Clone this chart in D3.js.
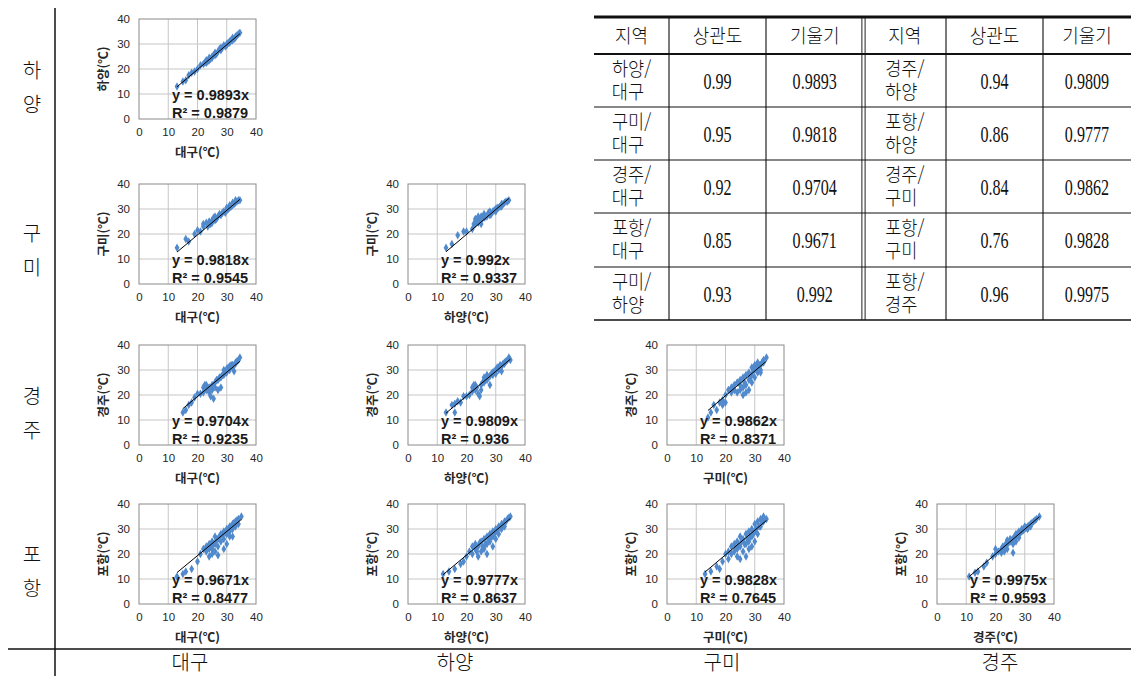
<!DOCTYPE html>
<html lang="ko">
	<head>
		<meta charset="utf-8">
		<title>지역별 기온 상관도</title>
		<script type="text/javascript" src="https://cdn.jsdelivr.net/npm/d3@7/dist/d3.min.js"></script>
		<style type="text/css">
			body {
				margin: 0;
				background: #fff;
				}
			.axis text {
				font-family: "Liberation Sans", Arial, sans-serif;
				font-size: 11.5px;
				fill: #262626;
				}
			.axis path { display: none; }
			.axis_title {
				font-family: "Noto Sans CJK KR", sans-serif;
				font-weight: bold;
				font-size: 12.5px;
				fill: #262626;
				}
			.eq {
				font-family: "Liberation Sans", Arial, sans-serif;
				font-weight: bold;
				font-size: 14.5px;
				fill: #1a1a1a;
				}
			.big_label {
				font-family: "Noto Sans CJK KR", sans-serif;
				font-weight: 300;
				font-size: 20px;
				fill: #111;
				}
			.cell_kr {
				font-family: "Noto Sans CJK KR", sans-serif;
				font-weight: 300;
				font-size: 19.5px;
				fill: #111;
				}
			.cell_num {
				font-family: "Liberation Serif", serif;
				font-size: 23px;
				fill: #111;
				}
		</style>
	</head>
	<body>
		<script type="text/javascript">

			var w = 1131;
			var h = 676;

			// names of the stations
			var rowNames = ["하양", "구미", "경주", "포항"];
			var colNames = ["대구", "하양", "구미", "경주"];

			// one entry per scatter panel: [row index, col index]
			var panelCells = [[0,0], [1,0], [1,1], [2,0], [2,1], [2,2], [3,0], [3,1], [3,2], [3,3]];
			var slopes = [0.9893, 0.9818, 0.992, 0.9704, 0.9809, 0.9862, 0.9671, 0.9777, 0.9828, 0.9975];
			var rSquares = ["0.9879", "0.9545", "0.9337", "0.9235", "0.936", "0.8371", "0.8477", "0.8637", "0.7645", "0.9593"];
			var tickValues = [0, 10, 20, 30, 40];

			// daily temperatures, [x, y]
			var pts_hayang_daegu = [[13,13],[15,15],[16,15.5],[17,17.5],[18,18.5],[19,19],[20,20],[21,21.5],[22,22],[22.5,22.5],
				[23,23.5],[23.5,23],[24,24.5],[24.5,24],[25,25],[25.5,25.5],[26,26.5],[26.5,26],[27,27],[27.5,28],
				[28,27.5],[28.5,28.5],[29,29.5],[29.5,29],[30,30],[30.5,30.5],[31,31],[31.5,31.5],[32,32.5],[32.5,32],
				[33,33],[33.5,33.5],[34,34],[34.5,34.5],[23,22.5],[24,23.5],[25,24.5],[26,25.5],[28,28.5],[30,29.5],[31,30.5],[32,31.5],[33,32.5]];
			var pts_gumi_daegu = [[13,14.5],[16,18],[17,17],[19,20],[20,21.5],[21,21],[22,23],[22,24],[23,24.5],[23.5,23],
				[24,25],[24.5,24],[25,25.5],[25.5,26.5],[26,27],[26.5,26],[27,27],[27.5,28],[28,27.5],[28.5,28.5],
				[29,29],[29.5,28.5],[30,29.5],[30.5,30],[31,30.5],[31.5,31],[32,31.5],[32.5,32],[33,32.5],[33.5,33],
				[34,33.5],[34.5,33.5],[30,30.5],[31,31.5],[32,32.5],[33,33.5],[25,24.5],[26,25.5],[24,24]];
			var pts_gumi_hayang = [[13,14.5],[15,16],[17,19.5],[19,21],[20,21],[22,22],[22.5,24],[23,24],[23,26],[23.5,25],
				[24,27],[24,25.5],[24.5,26],[25,27],[25,24],[25.5,26.5],[26,26.5],[26,28],[26.5,27],[27,27],
				[27.5,28.5],[28,29],[28,27.5],[28.5,28],[29,29],[29.5,29.5],[30,30],[30,29],[30.5,30.5],[31,30.5],
				[31.5,31],[32,31],[32,32],[32.5,32],[33,32.5],[33.5,33],[34,33],[34.5,33.5],[24,24.5],[25,25.5]];
			var pts_gyeongju_daegu = [[15,13],[16,14],[17,16],[18,17],[19,19],[20,20.5],[21,20.5],[22,21],[22,23],[22.5,24],
				[23,24],[23,22],[23.5,23],[24,23],[24,21],[24.5,19.5],[25,22],[25,24],[25.5,18.5],[26,23],
				[26,25],[26.5,26],[27,22],[27,26],[27.5,27],[28,27],[28,23],[28.5,28],[29,28],[29,30],
				[29.5,29],[30,29],[30,30.5],[30.5,31],[31,30],[31,31.5],[31.5,32],[32,31],[32,32],[32.5,29.5],
				[33,32.5],[33,33],[33.5,33.5],[34,34],[34.5,35]];
			var pts_gyeongju_hayang = [[13,13],[16,13],[15,16],[16,16.5],[17,17.5],[18,17],[19,19.5],[20,19.5],[21,20],[22,21.5],
				[22,23],[22.5,24],[23,24],[23,22],[23.5,23],[24,20.5],[24.5,19.5],[25,24],[25,22],[25.5,25],
				[26,25],[26,27],[26.5,26],[27,26],[27,28],[27.5,27],[28,24],[28,27.5],[28.5,28.5],[29,28],
				[29,29],[29.5,29.5],[30,30],[30,28.5],[30.5,31],[31,31],[31,30],[31.5,32],[32,31.5],[32,29.5],
				[32.5,32.5],[33,32.5],[33,33],[33.5,33.5],[34,34],[34.5,35],[35,34]];
			var pts_gyeongju_gumi = [[14,11],[15,13],[16,16],[17,14],[18,17],[19,16],[19,18],[20,20],[20,17],[21,22],
				[22,21],[22,23],[23,22],[23,24],[24,21],[24,25],[25,22],[25,24],[25,26],[26,20],
				[26,23],[26,27],[26.5,25],[27,21],[27,24],[27,28],[28,22],[28,26],[28,29],[28.5,27],
				[29,25],[29,28],[29,31],[29.5,30],[30,27],[30,30],[30,32],[30.5,31],[31,29],[31,31],
				[31,33],[31.5,32],[32,30],[32,32],[32.5,33],[33,33],[33,34],[34,35],[32,29]];
			var pts_pohang_daegu = [[13,11],[15,12],[16,13],[18,14],[20,17],[21,20],[22,22],[23,23],[23,21],[23.5,22.5],
				[24,24],[24,22],[24,19],[24.5,23],[25,22],[25,25],[25,20],[25.5,24],[26,24],[26,27],
				[26,21],[26.5,25.5],[27,26],[27,23],[27,19.5],[27.5,27],[28,28],[28,25],[28.5,27.5],[29,29],
				[29,26],[29,22],[29.5,28.5],[30,30],[30,28],[30,24],[30.5,30],[31,31],[31,29],[31,27],
				[31.5,31],[32,32],[32,30],[32,27],[32.5,32.5],[33,33],[33,31],[33.5,33.5],[34,34],[34,32],[35,35]];
			var pts_pohang_hayang = [[12,12],[14,13],[16,14],[18,16],[19,17],[20,19],[21,21],[22,20],[22,23],[23,22],
				[23,24],[23.5,21],[24,19],[24,23],[24.5,24.5],[25,21],[25,25],[25.5,23],[26,22],[26,26],
				[26.5,24],[27,20],[27,24],[27,27],[27.5,26],[28,25],[28,28],[28.5,27],[29,23],[29,27],
				[29,29],[29.5,28],[30,26],[30,30],[30.5,29],[31,28],[31,31],[31.5,30.5],[32,30],[32,32],
				[32.5,31.5],[33,31],[33,33],[33.5,33],[34,34],[34.5,34.5],[35,35]];
			var pts_pohang_gumi = [[13,12],[15,13],[17,15],[18,14],[19,17],[20,20],[21,21],[21,18],[22,23],[22,20],
				[23,24],[23,21],[23.5,22.5],[24,22],[24,25],[24,19],[24.5,23.5],[25,23],[25,27],[25,18],
				[25.5,25],[26,21],[26,26],[26.5,24],[27,24],[27,28],[27,19],[27.5,26],[28,25],[28,29],
				[28,22],[28.5,27],[29,27],[29,30],[29,23],[29.5,28],[30,29],[30,32],[30,25],[30.5,30],
				[31,28],[31,33],[31.5,31],[32,31],[32,34],[32.5,33],[33,33],[33,35],[34,34]];
			var pts_pohang_gyeongju = [[11,11],[13,12.5],[14,13],[16,15],[17,16.5],[19,19],[20,20],[20,22],[21,21],[22,22],
				[22,20.5],[22.5,23],[23,23],[23,21],[23.5,24],[24,24],[24,25.5],[24,22],[24.5,24.5],[25,25],
				[25,26],[25.5,25.5],[26,26],[26,24],[26,20.5],[26.5,27],[27,27],[27,28],[27,25],[27.5,27.5],
				[28,28],[28,29],[28,26.5],[28.5,28.5],[29,29],[29,30],[29.5,29.5],[30,30],[30,31],[30.5,30.5],
				[31,31],[31,30],[31.5,31.5],[32,32],[32,31],[32.5,32.5],[33,33],[33.5,33.5],[34,34],[35,35]];

			var panelPoints = [pts_hayang_daegu, pts_gumi_daegu, pts_gumi_hayang, pts_gyeongju_daegu, pts_gyeongju_hayang,
				pts_gyeongju_gumi, pts_pohang_daegu, pts_pohang_hayang, pts_pohang_gumi, pts_pohang_gyeongju];

			// table on the upper right
			var tableHeaders = ["지역", "상관도", "기울기", "지역", "상관도", "기울기"];
			var leftPairs = [["하양/","대구"], ["구미/","대구"], ["경주/","대구"], ["포항/","대구"], ["구미/","하양"]];
			var leftCorr = ["0.99", "0.95", "0.92", "0.85", "0.93"];
			var leftSlope = ["0.9893", "0.9818", "0.9704", "0.9671", "0.992"];
			var rightPairs = [["경주/","하양"], ["포항/","하양"], ["경주/","구미"], ["포항/","구미"], ["포항/","경주"]];
			var rightCorr = ["0.94", "0.86", "0.84", "0.76", "0.96"];
			var rightSlope = ["0.9809", "0.9777", "0.9862", "0.9828", "0.9975"];


			// layout of the panel grid
			var colX = [139, 408, 667, 937];
			var rowY = [19, 184, 345, 504];
			var pw = 117;
			var ph = 100;

			var svg = d3.select("body")
						.append("svg")
						.attr("width", w)
						.attr("height", h);

			var xScale = d3.scaleLinear().domain([0, 40]).range([0, pw]);
			var yScale = d3.scaleLinear().domain([0, 40]).range([ph, 0]);

			var diamond = d3.symbol().type(d3.symbolDiamond).size(20);

			panelCells.forEach(function(cell, i){
				var r = cell[0], c = cell[1];
				var g = svg.append("g")
					.attr("transform", "translate(" + colX[c] + "," + rowY[r] + ")");

				// grid
				g.selectAll("line.gx")
					.data(tickValues.slice(1, 4))
					.enter().append("line")
					.attr("x1", function(d){ return xScale(d); })
					.attr("x2", function(d){ return xScale(d); })
					.attr("y1", 0).attr("y2", ph)
					.attr("stroke", "#c6c6c6");
				g.selectAll("line.gy")
					.data(tickValues.slice(1, 4))
					.enter().append("line")
					.attr("y1", function(d){ return yScale(d); })
					.attr("y2", function(d){ return yScale(d); })
					.attr("x1", 0).attr("x2", pw)
					.attr("stroke", "#c6c6c6");
				g.append("rect")
					.attr("width", pw).attr("height", ph)
					.attr("fill", "none")
					.attr("stroke", "#8a8a8a");

				// points
				var pts = panelPoints[i];
				g.selectAll("path.pt")
					.data(pts)
					.enter().append("path")
					.attr("d", diamond)
					.attr("transform", function(d){
						return "translate(" + xScale(d[0]) + "," + yScale(d[1]) + ")";
						})
					.attr("fill", "#5089cc");

				// trend line through the origin
				var xs = d3.extent(pts, function(d){ return d[0]; });
				g.append("line")
					.attr("x1", xScale(xs[0])).attr("y1", yScale(slopes[i]*xs[0]))
					.attr("x2", xScale(xs[1])).attr("y2", yScale(slopes[i]*xs[1]))
					.attr("stroke", "#000")
					.attr("stroke-width", 1);

				// axes
				g.append("g")
					.attr("class", "axis")
					.attr("transform", "translate(0," + ph + ")")
					.call(d3.axisBottom(xScale).tickValues(tickValues).tickSize(0).tickPadding(9));
				g.append("g")
					.attr("class", "axis")
					.call(d3.axisLeft(yScale).tickValues(tickValues).tickSize(0).tickPadding(9));

				g.append("text")
					.attr("class", "axis_title")
					.attr("x", pw/2).attr("y", ph + 38)
					.attr("text-anchor", "middle")
					.text(colNames[c] + "(℃)");
				g.append("text")
					.attr("class", "axis_title")
					.attr("transform", "translate(-31," + (ph/2) + ") rotate(-90)")
					.attr("text-anchor", "middle")
					.text(rowNames[r] + "(℃)");

				g.append("text").attr("class", "eq")
					.attr("x", 33).attr("y", 81)
					.text("y = " + slopes[i] + "x");
				g.append("text").attr("class", "eq")
					.attr("x", 33).attr("y", 99)
					.text("R² = " + rSquares[i]);
				});

			// frame lines
			svg.append("line").attr("x1", 55).attr("x2", 55).attr("y1", 8).attr("y2", h)
				.attr("stroke", "#111").attr("stroke-width", 1.5);
			svg.append("line").attr("x1", 8).attr("x2", w).attr("y1", 649).attr("y2", 649)
				.attr("stroke", "#111").attr("stroke-width", 1.5);

			// row names, one syllable per line
			rowNames.forEach(function(name, r){
				var cy = [86, 249, 412, 570][r];
				svg.append("text").attr("class", "big_label")
					.attr("x", 32).attr("y", cy - 8).attr("text-anchor", "middle")
					.text(name[0]);
				svg.append("text").attr("class", "big_label")
					.attr("x", 32).attr("y", cy + 26).attr("text-anchor", "middle")
					.text(name[1]);
				});

			var bottomX = [190, 455, 722, 1000];
			colNames.forEach(function(name, c){
				svg.append("text").attr("class", "big_label")
					.attr("x", bottomX[c]).attr("y", 670).attr("text-anchor", "middle")
					.text(name);
				});

			// table
			var tLeft = 594, tRight = w;
			var colEdges = [594, 669, 766, 863.5, 946, 1043, 1131];
			var rowEdges = [17, 54, 107, 160, 213, 267, 320];
			var tbl = svg.append("g");

			[1, 2, 4, 5].forEach(function(k){
				tbl.append("line").attr("x1", colEdges[k]).attr("x2", colEdges[k])
					.attr("y1", rowEdges[0]).attr("y2", rowEdges[6])
					.attr("stroke", "#222").attr("stroke-width", 1.2);
				});
			[-1.6, 1.6].forEach(function(o){
				tbl.append("line").attr("x1", colEdges[3] + o).attr("x2", colEdges[3] + o)
					.attr("y1", rowEdges[0]).attr("y2", rowEdges[6])
					.attr("stroke", "#222").attr("stroke-width", 1);
				});
			rowEdges.forEach(function(y, k){
				tbl.append("line").attr("x1", tLeft).attr("x2", tRight)
					.attr("y1", y).attr("y2", y)
					.attr("stroke", "#111")
					.attr("stroke-width", k == 0 ? 3 : (k == 1 ? 2 : (k == 6 ? 1.6 : 1.2)));
				});

			function cellText(cls, x, y, s, sx){
				tbl.append("text").attr("class", cls)
					.attr("text-anchor", "middle")
					.attr("transform", "translate(" + x + "," + y + ") scale(" + sx + ",1)")
					.text(s);
				}

			// two-line station pair in one text element
			function pairText(x, y, pair){
				var t = tbl.append("text").attr("class", "cell_kr")
					.attr("text-anchor", "middle")
					.attr("transform", "translate(" + x + "," + y + ") scale(0.9,1)");
				t.append("tspan").attr("x", 0).attr("y", 0).text(pair[0]);
				t.append("tspan").attr("x", -4).attr("y", 23).text(pair[1]);
				}

			var mids = colEdges.slice(0, 6).map(function(x, k){ return (x + colEdges[k+1])/2; });

			tableHeaders.forEach(function(s, k){
				cellText("cell_kr", mids[k], 43, s, 0.92);
				});

			for (var i=0; i<5; i++){
				var rowTop = rowEdges[i+1];
				pairText(mids[0], rowTop + 22, leftPairs[i]);
				cellText("cell_num", mids[1], rowTop + 35, leftCorr[i], 0.7);
				cellText("cell_num", mids[2], rowTop + 35, leftSlope[i], 0.7);
				pairText(mids[3], rowTop + 22, rightPairs[i]);
				cellText("cell_num", mids[4], rowTop + 35, rightCorr[i], 0.7);
				cellText("cell_num", mids[5], rowTop + 35, rightSlope[i], 0.7);
				}

		</script>
	</body>
</html>
